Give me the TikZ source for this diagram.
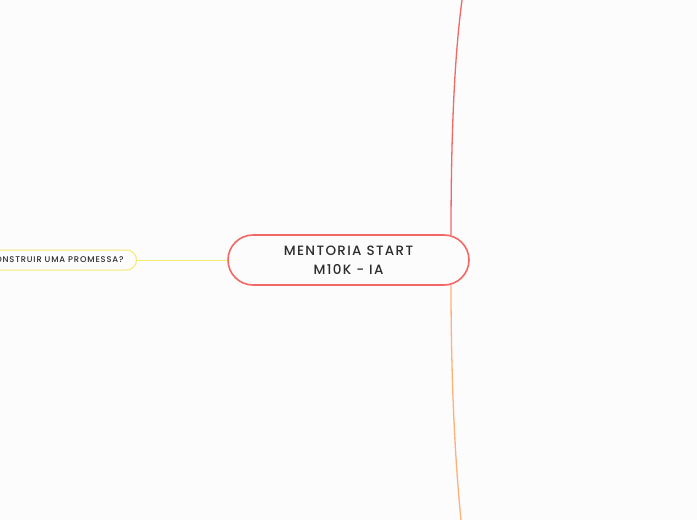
\documentclass[tikz,border=0pt]{standalone}
\usepackage{fontspec}
\setmainfont{Poppins}
\newfontfamily\mapfont[LetterSpace=10]{Poppins Medium}
\definecolor{mapbg}{RGB}{252,252,252}
\definecolor{rootred}{RGB}{243,104,100}
\definecolor{branchorange}{RGB}{255,176,122}
\definecolor{branchyellow}{RGB}{245,234,110}
\definecolor{maptext}{RGB}{45,45,45}
\tikzset{
  rootbox/.style={draw=rootred, line width=1.6pt, rounded corners=25pt, fill=mapbg,
    minimum width=241pt, minimum height=50pt, align=center, text=maptext,
    font=\mapfont\fontsize{13.5}{18.5}\selectfont},
  subbox/.style={draw=branchyellow, line width=1pt, rounded corners=10pt, fill=mapbg,
    minimum height=20pt, inner xsep=13pt, text=maptext,
    font=\mapfont\fontsize{8.3}{10}\selectfont},
  link/.style={line width=1.3pt, line cap=round}
}
\begin{document}
\begin{tikzpicture}[x=1pt, y=-1pt]

     % page
     \fill[mapbg] (0,0) rectangle (697,520);
     \useasboundingbox (0,0) rectangle (697,520);

     % branches going up and down
     \coordinate (topend) at (462,0);
     \coordinate (bottomend) at (461,520);
     \coordinate (roottop) at (451,235);
     \coordinate (rootbottom) at (451,285);
     \draw[link, rootred] (roottop) .. controls (451,140) and (454,60) .. (topend);
     \draw[link, branchorange] (rootbottom) .. controls (451,380) and (455,460) .. (bottomend);

     % left topic
     \node[subbox, anchor=east] (promessa) at (137,260) {CONSTRUIR UMA PROMESSA?};

     % root
     \node[rootbox] (root) at (348.5,260) {MENTORIA START\\M10K - IA};

     \draw[link, branchyellow, line width=1pt] (promessa.east) -- (root.west);

\end{tikzpicture}
\end{document}
